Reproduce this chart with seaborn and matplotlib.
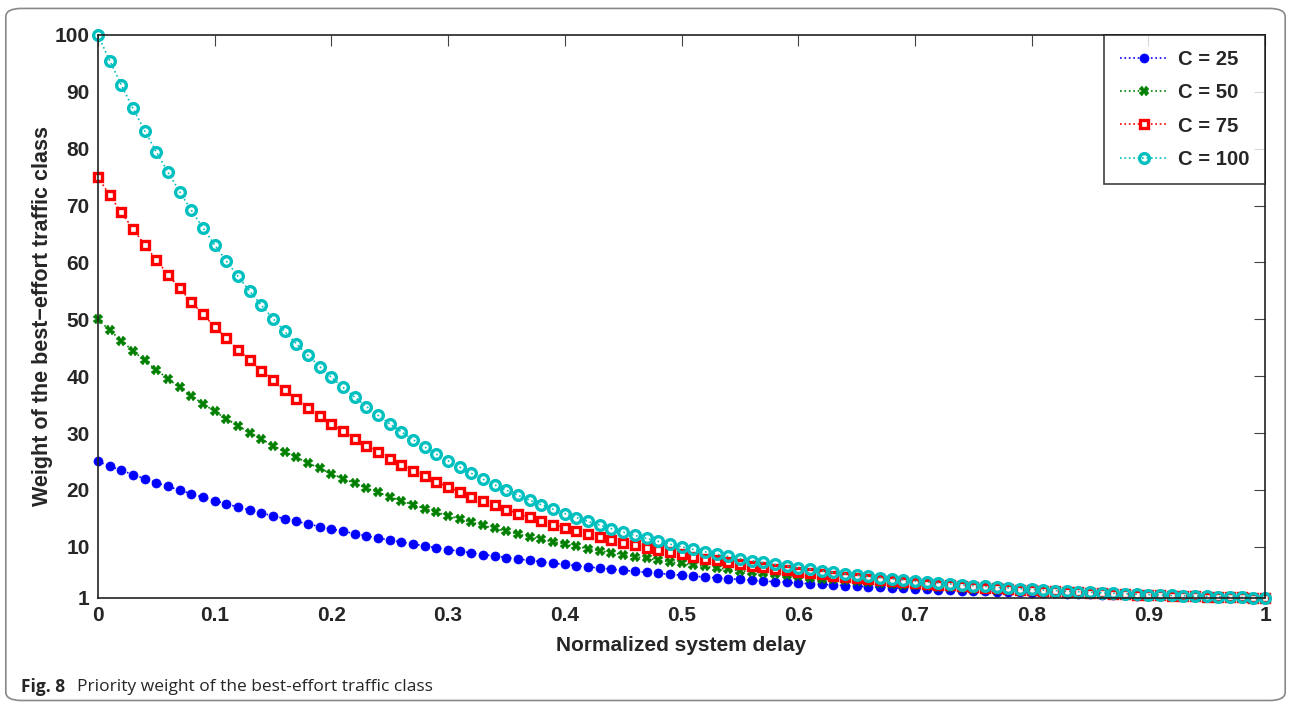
import numpy as np
import pandas as pd
import seaborn as sns
import matplotlib.pyplot as plt
from matplotlib.patches import FancyBboxPatch

# normalized system delay, 0 .. 1 in steps of 0.01
delay = np.round(np.linspace(0, 1, 101), 2)

w25 = [25.00, 24.21, 23.44, 22.70, 21.98, 21.28, 20.61, 19.96, 19.32, 18.71,
       18.12, 17.55, 16.99, 16.45, 15.93, 15.43, 14.94, 14.46, 14.01, 13.56,
       13.13, 12.72, 12.31, 11.92, 11.55, 11.18, 10.83, 10.48, 10.15, 9.83,
       9.52, 9.22, 8.92, 8.64, 8.37, 8.10, 7.85, 7.60, 7.36, 7.12,
       6.90, 6.68, 6.47, 6.26, 6.07, 5.87, 5.69, 5.51, 5.33, 5.16,
       5.00, 4.84, 4.69, 4.54, 4.40, 4.26, 4.12, 3.99, 3.86, 3.74,
       3.62, 3.51, 3.40, 3.29, 3.19, 3.09, 2.99, 2.89, 2.80, 2.71,
       2.63, 2.54, 2.46, 2.38, 2.31, 2.24, 2.17, 2.10, 2.03, 1.97,
       1.90, 1.84, 1.79, 1.73, 1.67, 1.62, 1.57, 1.52, 1.47, 1.42,
       1.38, 1.34, 1.29, 1.25, 1.21, 1.17, 1.14, 1.10, 1.07, 1.03,
       1.00]
w50 = [50.00, 48.08, 46.24, 44.46, 42.76, 41.12, 39.54, 38.02, 36.56, 35.16,
       33.81, 32.51, 31.27, 30.07, 28.91, 27.80, 26.74, 25.71, 24.73, 23.78,
       22.87, 21.99, 21.14, 20.33, 19.55, 18.80, 18.08, 17.39, 16.72, 16.08,
       15.46, 14.87, 14.30, 13.75, 13.22, 12.72, 12.23, 11.76, 11.31, 10.87,
       10.46, 10.06, 9.67, 9.30, 8.94, 8.60, 8.27, 7.95, 7.65, 7.35,
       7.07, 6.80, 6.54, 6.29, 6.05, 5.81, 5.59, 5.38, 5.17, 4.97,
       4.78, 4.60, 4.42, 4.25, 4.09, 3.93, 3.78, 3.64, 3.50, 3.36,
       3.23, 3.11, 2.99, 2.88, 2.77, 2.66, 2.56, 2.46, 2.36, 2.27,
       2.19, 2.10, 2.02, 1.94, 1.87, 1.80, 1.73, 1.66, 1.60, 1.54,
       1.48, 1.42, 1.37, 1.32, 1.26, 1.22, 1.17, 1.12, 1.08, 1.04,
       1.00]
w75 = [75.00, 71.83, 68.80, 65.89, 63.10, 60.44, 57.88, 55.44, 53.10, 50.85,
       48.70, 46.65, 44.67, 42.79, 40.98, 39.25, 37.59, 36.00, 34.48, 33.02,
       31.63, 30.29, 29.01, 27.78, 26.61, 25.49, 24.41, 23.38, 22.39, 21.44,
       20.54, 19.67, 18.84, 18.04, 17.28, 16.55, 15.85, 15.18, 14.54, 13.92,
       13.34, 12.77, 12.23, 11.72, 11.22, 10.75, 10.29, 9.86, 9.44, 9.04,
       8.66, 8.29, 7.94, 7.61, 7.29, 6.98, 6.68, 6.40, 6.13, 5.87,
       5.62, 5.39, 5.16, 4.94, 4.73, 4.53, 4.34, 4.16, 3.98, 3.81,
       3.65, 3.50, 3.35, 3.21, 3.07, 2.94, 2.82, 2.70, 2.59, 2.48,
       2.37, 2.27, 2.18, 2.08, 2.00, 1.91, 1.83, 1.75, 1.68, 1.61,
       1.54, 1.47, 1.41, 1.35, 1.30, 1.24, 1.19, 1.14, 1.09, 1.04,
       1.00]
w100 = [100.00, 95.50, 91.20, 87.10, 83.18, 79.43, 75.86, 72.44, 69.18, 66.07,
        63.10, 60.26, 57.54, 54.95, 52.48, 50.12, 47.86, 45.71, 43.65, 41.69,
        39.81, 38.02, 36.31, 34.67, 33.11, 31.62, 30.20, 28.84, 27.54, 26.30,
        25.12, 23.99, 22.91, 21.88, 20.89, 19.95, 19.05, 18.20, 17.38, 16.60,
        15.85, 15.14, 14.45, 13.80, 13.18, 12.59, 12.02, 11.48, 10.96, 10.47,
        10.00, 9.55, 9.12, 8.71, 8.32, 7.94, 7.59, 7.24, 6.92, 6.61,
        6.31, 6.03, 5.75, 5.50, 5.25, 5.01, 4.79, 4.57, 4.37, 4.17,
        3.98, 3.80, 3.63, 3.47, 3.31, 3.16, 3.02, 2.88, 2.75, 2.63,
        2.51, 2.40, 2.29, 2.19, 2.09, 2.00, 1.91, 1.82, 1.74, 1.66,
        1.58, 1.51, 1.45, 1.38, 1.32, 1.26, 1.20, 1.15, 1.10, 1.05,
        1.00]

labels = ["C = 25", "C = 50", "C = 75", "C = 100"]
xticks = [0, 0.1, 0.2, 0.3, 0.4, 0.5, 0.6, 0.7, 0.8, 0.9, 1]
xtick_labels = ["0", "0.1", "0.2", "0.3", "0.4", "0.5", "0.6", "0.7", "0.8", "0.9", "1"]
yticks = [1, 10, 20, 30, 40, 50, 60, 70, 80, 90, 100]

sns.set_style("white")
plt.rcParams['font.family'] = ['Liberation Sans', 'DejaVu Sans']
plt.rcParams['xtick.direction'] = 'in'
plt.rcParams['ytick.direction'] = 'in'

fig = plt.figure(figsize=(12.91, 7.04), dpi=100)
ax = fig.add_axes([0.0759, 0.1506, 0.9040, 0.7997])

styles = [
    dict(color='#0000ff', marker='o', markersize=6.5, markerfacecolor='#0000ff',
         markeredgecolor='#0000ff', markeredgewidth=0.5),
    dict(color='#007f00', marker='X', markersize=7, markerfacecolor='#007f00',
         markeredgecolor='#007f00', markeredgewidth=0.3),
    dict(color='#ff0000', marker='s', markersize=6, markerfacecolor='white',
         markeredgecolor='#ff0000', markeredgewidth=2.4),
    dict(color='#00bfbf', marker='o', markersize=7, markerfacecolor='none',
         markeredgecolor='#00bfbf', markeredgewidth=2.4),
]
for vals, lab, st in zip([w25, w50, w75, w100], labels, styles):
    sns.lineplot(x=delay, y=vals, ax=ax, label=lab, linestyle=':', linewidth=1.2,
                 clip_on=False, **st)

ax.set_xlim(0, 1)
ax.set_ylim(1, 100)
ax.set_xticks(xticks)
ax.set_xticklabels(xtick_labels)
ax.set_yticks(yticks)
for sp in ax.spines.values():
    sp.set_visible(True)
    sp.set_color('#222222')
    sp.set_linewidth(1.2)
ax.tick_params(axis='both', which='both', top=True, right=True, length=8,
               width=0.8, color='#444444', labelsize=15, pad=6)
for t in ax.get_xticklabels() + ax.get_yticklabels():
    t.set_fontweight('bold')

ax.set_xlabel("Normalized system delay", fontsize=15, fontweight='bold', labelpad=8)
ax.set_ylabel("Weight of the best\u2212effort traffic class", fontsize=15.5,
              fontweight='bold', labelpad=1)

leg = ax.legend(loc='upper right', frameon=True, fancybox=False, borderaxespad=0,
                prop={'weight': 'bold', 'size': 14.6}, handlelength=2.4,
                labelspacing=0.7, borderpad=0.75, handletextpad=0.5)
leg.get_frame().set_edgecolor('#111111')
leg.get_frame().set_linewidth(1.2)
leg.set_zorder(10)

# journal figure frame and caption
frame = FancyBboxPatch((0.0045, 0.005), 0.991, 0.983, boxstyle="round,pad=0,rounding_size=0.012",
                       transform=fig.transFigure, fill=False, edgecolor='#888888', linewidth=1.2)
fig.patches.append(frame)
fig.text(0.0165, 0.024, "Fig. 8", fontsize=12.5, fontweight='bold', va='center',
         family=['Open Sans', 'DejaVu Sans'])
fig.text(0.0600, 0.024, "Priority weight of the best-effort traffic class", fontsize=12.5,
         va='center', family=['Open Sans', 'DejaVu Sans'])

fig.savefig("out.png", dpi=100)
